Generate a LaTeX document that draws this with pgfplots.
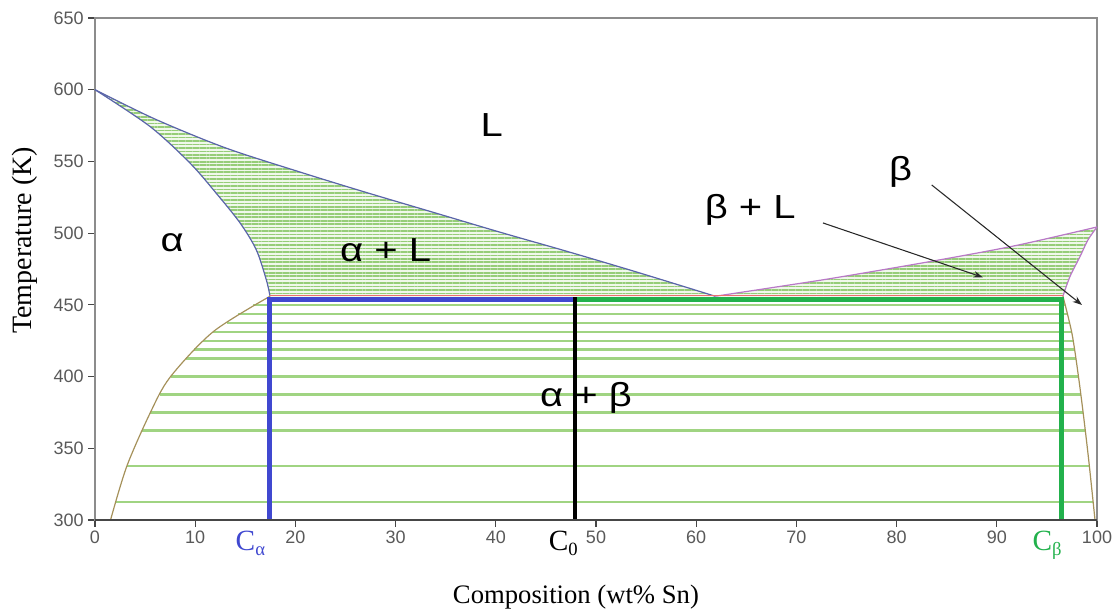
\documentclass[border=0pt]{standalone}
\usepackage{fontspec}
\setmainfont{Liberation Serif}
\newfontfamily\arial{Liberation Sans}
\usepackage{pgfplots}
\usepackage{pgfplotstable}
\pgfplotsset{compat=1.18}
\usepgfplotslibrary{fillbetween}
\usetikzlibrary{patterns.meta, arrows.meta}

\definecolor{axisgray}{RGB}{140,140,140}
\definecolor{darkaxis}{RGB}{70,70,70}
\definecolor{labelgray}{RGB}{89,89,89}
\definecolor{curveblue}{RGB}{90,100,170}
\definecolor{curvepurple}{RGB}{185,120,200}
\definecolor{olive}{RGB}{165,145,90}
\definecolor{hatchgreen}{RGB}{160,212,130}
\definecolor{hatchdense}{RGB}{150,205,120}
\definecolor{hatchlight}{RGB}{240,248,235}
\definecolor{eutred}{RGB}{235,110,110}
\definecolor{blueline}{RGB}{64,72,208}
\definecolor{greenline}{RGB}{34,177,76}
\definecolor{arrowgray}{RGB}{40,40,40}

% phase boundaries (wt% Sn, K)
\pgfplotstableread{
x y
0 600
6 579.5
13 559.5
20.5 542.5
27 528.5
34 514
40.5 500.5
47 487.5
54 473
61.9 456
}\liqL
\pgfplotstableread{
x y
0 600
5.5 574.3
9.5 548.7
12.1 527.8
14.5 506.9
16.1 488.3
17.1 467.4
17.47 456
}\solL
\pgfplotstableread{
x y
17.47 456
11.8 431.3
7.49 399.5
5.49 374.4
3.16 337.2
1.55 300
}\solvL
\pgfplotstableread{
x y
61.9 456
68.5 463
74 469
84 481
92 491.5
100 504.3
}\liqR
\pgfplotstableread{
x y
96.6 456
97.3 469.7
98.3 483.6
99.1 495.3
100 504.3
}\solR
\pgfplotstableread{
x y
96.6 456
97.5 430
98.15 400
98.7 370
99.2 340
99.8 300
}\solvR

\begin{document}
\begin{tikzpicture}
\begin{axis}[
  width=751.5pt, height=376.5pt, scale only axis,
  xmin=0, xmax=100, ymin=300, ymax=650,
  xtick={0,10,...,100}, ytick={300,350,...,650},
  axis line style={draw=axisgray, line width=2pt},
  tick align=outside, xtick pos=bottom, ytick pos=left,
  major tick length=5pt,
  tick style={draw=darkaxis, line width=0.8pt},
  /pgf/number format/assume math mode=true,
  ticklabel style={font=\arial\fontsize{13.5}{14}\selectfont, text=labelgray},
  clip=false,
]
% named boundaries
\addplot[name path=liqL, smooth, draw=none] table {\liqL};
\addplot[name path=solL, smooth, draw=none] table {\solL};
\addplot[name path=liqR, smooth, draw=none] table {\liqR};
\addplot[name path=solR, smooth, draw=none] table {\solR};

% alpha + beta tie lines
\addplot[hatchgreen, line width=1.8pt, unbounded coords=jump] coordinates {
(15.8,450) (96.8,450) (50,nan)
(14.3,443.75) (97.05,443.75) (50,nan)
(13.2,437.5) (97.3,437.5) (50,nan)
(11.8,431.25) (97.48,431.25) (50,nan)
(10.76,425) (97.61,425) (50,nan)
(9.9,418.75) (97.74,418.75) (50,nan)
(9.1,412.5) (97.88,412.5) (50,nan)
(7.55,400) (98.15,400) (50,nan)
(6.53,387.5) (98.4,387.5) (50,nan)
(5.53,375) (98.6,375) (50,nan)
(4.74,362.5) (98.83,362.5) (50,nan)
(3.18,337.5) (99.24,337.5) (50,nan)
(2.1,312.5) (99.6,312.5)
};

% two-phase liquid regions
\addplot[fill=hatchlight, draw=none] fill between[of=liqL and solL];
\addplot[pattern={Lines[angle=0, distance=2.6pt, line width=1.25pt]}, pattern color=hatchdense, draw=none] fill between[of=liqL and solL];
\addplot[fill=hatchlight, draw=none] fill between[of=liqR and solR];
\addplot[pattern={Lines[angle=0, distance=2.6pt, line width=1.25pt]}, pattern color=hatchdense, draw=none] fill between[of=liqR and solR];

% boundaries drawn
\addplot[smooth, curveblue, line width=0.9pt] table {\liqL};
\addplot[smooth, curveblue, line width=0.9pt] table {\solL};
\addplot[smooth, olive, line width=0.9pt] table {\solvL};
\addplot[smooth, curvepurple, line width=0.9pt] table {\liqR};
\addplot[smooth, curvepurple, line width=0.9pt] table {\solR};
\addplot[smooth, olive, line width=0.9pt] table {\solvR};

% eutectic isotherm
\addplot[eutred, line width=1pt] coordinates {(17.47,456.4) (96.6,456.4)};

% lever-rule lines
\addplot[blueline, line width=3.8pt, line join=miter] coordinates {(17.37,300) (17.37,453.6) (47.9,453.6)};
\addplot[greenline, line width=3.8pt, line join=miter] coordinates {(47.9,453.6) (96.47,453.6) (96.47,300)};
\addplot[black, line width=3pt] coordinates {(47.9,300) (47.9,455.2)};

% arrows
\addplot[arrowgray, line width=0.8pt, -{Stealth[length=7pt,width=5pt]}] coordinates {(72.65,507.1) (88.6,469.2)};
\addplot[arrowgray, line width=0.8pt, -{Stealth[length=7pt,width=5pt]}] coordinates {(83.5,533.6) (98.5,449.9)};

% region labels
\tikzset{region/.style={font=\arial\fontsize{25}{25}\selectfont, xscale=1.2}}
\node[region] at (axis cs:39.6,575.4) {L};
\node[region] at (axis cs:7.7,493.2) {α};
\node[region] at (axis cs:29.0,488.3) {α + L};
\node[region] at (axis cs:65.4,516.2) {β + L};
\node[region] at (axis cs:80.4,542.7) {β};
\node[region] at (axis cs:49.0,385) {α + β};

% composition markers
\node[anchor=base east, inner sep=0pt, text=blueline, font=\fontsize{22}{22}\selectfont] at (axis cs:17.0,279) {C\raisebox{-0.2em}{\fontsize{14}{14}\selectfont α}};
\node[anchor=base east, inner sep=0pt, text=black, font=\fontsize{22}{22}\selectfont] at (axis cs:48.2,279) {C\raisebox{-0.2em}{\fontsize{14}{14}\selectfont 0}};
\node[anchor=base east, inner sep=0pt, text=greenline, font=\fontsize{22}{22}\selectfont] at (axis cs:96.5,279) {C\raisebox{-0.2em}{\fontsize{14}{14}\selectfont β}};

% axis labels
\node[rotate=90, font=\fontsize{21}{21}\selectfont] at (axis cs:-7.0,495) {Temperature (K)};
\node[font=\fontsize{20}{20}\selectfont] at (axis cs:48,246.3) {Composition (wt\% Sn)};
\end{axis}
\draw[darkaxis, line width=1.2pt] (current axis.south west) -- (current axis.south east);
\pgfresetboundingbox
\path[use as bounding box] (current axis.south west) ++(-71.25pt,-66.75pt) rectangle ++(840pt,456.75pt);
\end{tikzpicture}
\end{document}
